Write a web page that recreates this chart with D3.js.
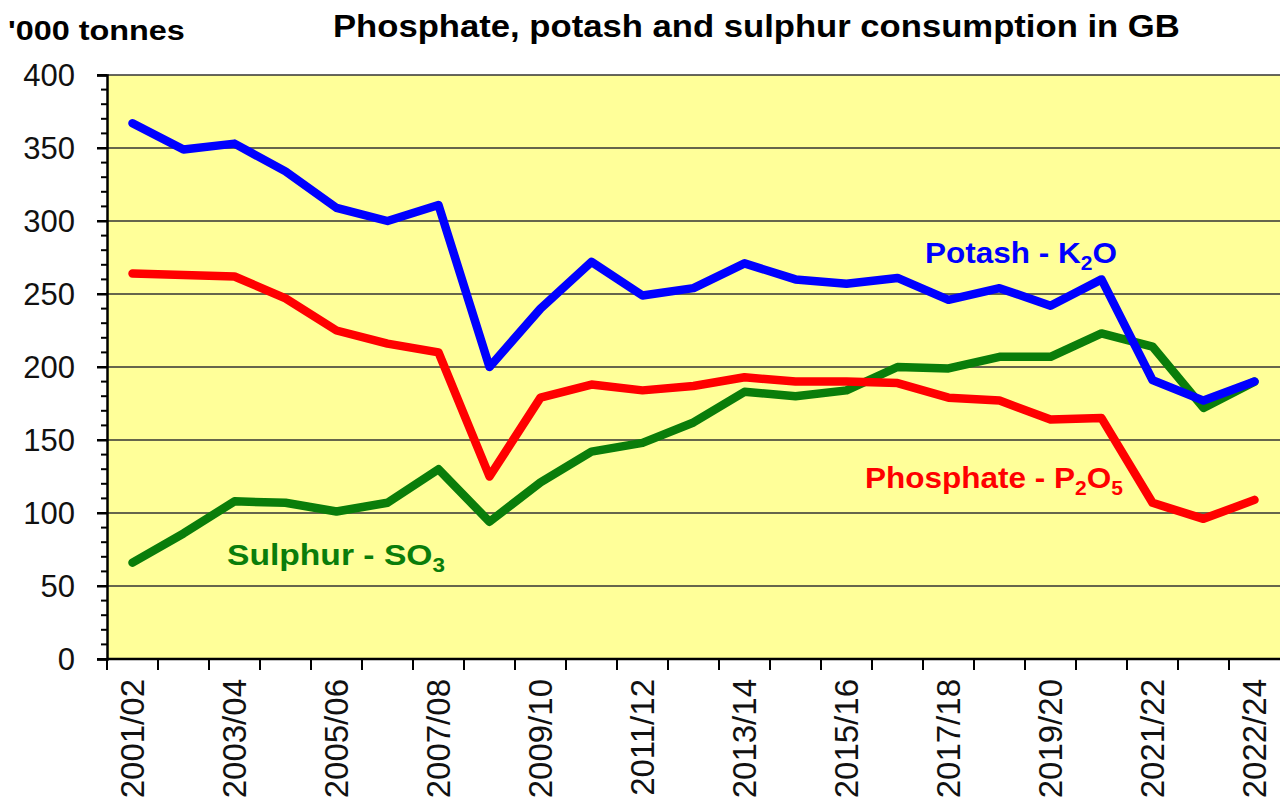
<!DOCTYPE html>
<html>
<head>
<meta charset="utf-8">
<script src="https://cdn.jsdelivr.net/npm/d3@7"></script>
<style>
  body { margin: 0; background: #fff; }
  text { font-family: "Liberation Sans", Arial, sans-serif; }
</style>
</head>
<body>
<div id="chart"></div>
<script>
const seasons = ["2001/02", "2002/03", "2003/04", "2004/05", "2005/06", "2006/07", "2007/08", "2008/09",
  "2009/10", "2010/11", "2011/12", "2012/13", "2013/14", "2014/15", "2015/16", "2016/17",
  "2017/18", "2018/19", "2019/20", "2020/21", "2021/22", "2022/23", "2022/24"];
const potash = [367, 349, 353, 334, 309, 300, 311, 200, 240, 272, 249, 254, 271, 260, 257, 261,
  246, 254, 242, 260, 191, 177, 190];
const phosphate = [264, 263, 262, 247, 225, 216, 210, 125, 179, 188, 184, 187, 193, 190, 190, 189,
  179, 177, 164, 165, 107, 96, 109];
const sulphur = [66, 86, 108, 107, 101, 107, 130, 94, 121, 142, 148, 162, 183, 180, 184, 200,
  199, 207, 207, 223, 214, 172, 190];
const yTicks = [0, 50, 100, 150, 200, 250, 300, 350, 400];

const margin = { top: 75, right: 1, bottom: 152, left: 107 };
const width = 1281 - margin.left - margin.right;
const height = 811 - margin.top - margin.bottom;

const svg = d3.select("#chart")
  .append("svg")
  .attr("width", 1281)
  .attr("height", 811);

const g = svg.append("g")
  .attr("transform", `translate(${margin.left},${margin.top})`);

const x = d3.scaleBand().domain(seasons).range([0, width]);
const y = d3.scaleLinear().domain([0, 400]).range([height, 0]);

// plot background
g.append("rect")
  .attr("width", width)
  .attr("height", height)
  .attr("fill", "#ffff99");

// gridlines
g.selectAll(".grid")
  .data(yTicks.filter(d => d > 0))
  .enter().append("line")
  .attr("x1", 0)
  .attr("x2", width)
  .attr("y1", d => y(d))
  .attr("y2", d => y(d))
  .attr("stroke", "#333")
  .attr("stroke-width", 1.5);

// minor y ticks
const minor = d3.range(0, 401, 10);
g.selectAll(".minor")
  .data(minor)
  .enter().append("line")
  .attr("x1", d => d % 50 === 0 ? -10 : -6)
  .attr("x2", 0)
  .attr("y1", d => y(d))
  .attr("y2", d => y(d))
  .attr("stroke", "#000")
  .attr("stroke-width", 2);

const yAxis = g.append("g")
  .call(d3.axisLeft(y).tickValues(yTicks).tickSize(10).tickPadding(22));
yAxis.select(".domain").attr("stroke-width", 2.5);
yAxis.selectAll(".tick line").attr("stroke-width", 2);
yAxis.selectAll("text")
  .attr("font-size", 31)
  .attr("fill", "#111")
  .attr("font-family", "'Liberation Sans', Arial, sans-serif")
  .attr("dy", "0.34em");

// x axis: ticks at band edges, labels on every other season
const xAxisG = g.append("g").attr("transform", `translate(0,${height})`);
xAxisG.append("line")
  .attr("x1", 0).attr("x2", width)
  .attr("stroke", "#000").attr("stroke-width", 2.5);
xAxisG.selectAll(".xt")
  .data(seasons)
  .enter().append("line")
  .attr("x1", d => x(d))
  .attr("x2", d => x(d))
  .attr("y1", 0)
  .attr("y2", 11)
  .attr("stroke", "#000")
  .attr("stroke-width", 2);
xAxisG.selectAll(".xl")
  .data(seasons.filter((d, i) => i % 2 === 0))
  .enter().append("text")
  .attr("transform", d => `translate(${x(d) + x.bandwidth() / 2 + 11},${20}) rotate(-90)`)
  .attr("text-anchor", "end")
  .attr("font-size", 33)
  .attr("fill", "#111")
  .text(d => d);

const line = d3.line()
  .x((d, i) => x(seasons[i]) + x.bandwidth() / 2)
  .y(d => y(d));

const series = [
  { values: sulphur, color: "#0a7d0a" },
  { values: phosphate, color: "#ff0000" },
  { values: potash, color: "#0000ff" }
];

g.selectAll(".series")
  .data(series)
  .enter().append("path")
  .attr("d", d => line(d.values))
  .attr("fill", "none")
  .attr("stroke", d => d.color)
  .attr("stroke-width", 8.5)
  .attr("stroke-linejoin", "round")
  .attr("stroke-linecap", "round");

// stretch a text horizontally so it spans the given width from its left edge
function fitWidth(t, xp, w) {
  const bw = t.node().getBBox().width;
  const s = w / bw;
  t.attr("transform", `translate(${xp},0) scale(${s},1) translate(${-xp},0)`);
}

// series labels
function label(xp, yp, w, color, main, sub) {
  const t = svg.append("text")
    .attr("x", xp).attr("y", yp)
    .attr("font-size", 30)
    .attr("font-weight", "bold")
    .attr("fill", color);
  t.append("tspan").text(main);
  sub.forEach(s => {
    t.append("tspan").attr("font-size", 20).attr("dy", 7).text(s[0]);
    if (s[1]) t.append("tspan").attr("dy", -7).text(s[1]);
  });
  fitWidth(t, xp, w);
}
label(925, 263, 192, "#0000ff", "Potash - K", [["2", "O"]]);
label(865, 488, 258, "#ff0000", "Phosphate - P", [["2", "O"], ["5", ""]]);
label(227, 565, 218, "#0a7d0a", "Sulphur - SO", [["3", ""]]);

// titles
const title = svg.append("text")
  .attr("x", 333).attr("y", 37)
  .attr("font-size", 32)
  .attr("font-weight", "bold")
  .text("Phosphate, potash and sulphur consumption in GB");
fitWidth(title, 333, 847);

const unit = svg.append("text")
  .attr("x", 8).attr("y", 40)
  .attr("font-size", 28)
  .attr("font-weight", "bold")
  .text("'000 tonnes");
fitWidth(unit, 8, 177);
</script>
</body>
</html>
